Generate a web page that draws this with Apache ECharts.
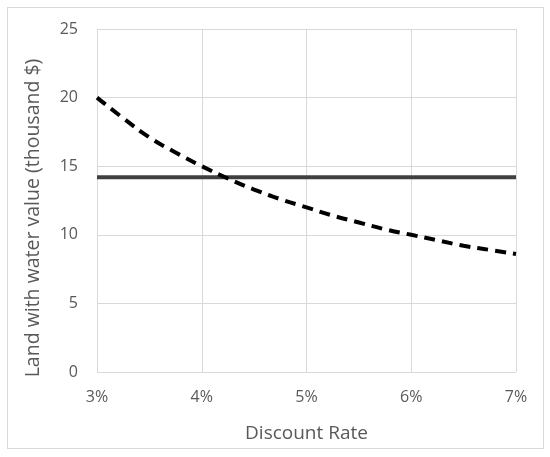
<!DOCTYPE html>
<html>
<head>
<meta charset="utf-8">
<script src="https://cdn.jsdelivr.net/npm/echarts@6/dist/echarts.min.js"></script>
<style>
html,body{margin:0;padding:0;background:#fff;}
#frame{position:absolute;left:7px;top:7px;width:537px;height:442px;border:1px solid #d9d9d9;box-sizing:border-box;}
#c{position:absolute;left:0;top:0;width:550px;height:457px;}
</style>
</head>
<body>
<div id="frame"></div>
<div id="c"></div>
<script>
const discountRates = [3.0, 3.25, 3.5, 3.75, 4.0, 4.25, 4.5, 4.75, 5.0, 5.25, 5.5, 5.75, 6.0, 6.25, 6.5, 6.75, 7.0];
const landWithWaterValue = [20.0, 18.5, 17.1, 16.0, 15.0, 14.1, 13.3, 12.6, 12.0, 11.4, 10.9, 10.4, 10.0, 9.6, 9.2, 8.9, 8.6];
const thresholdValue = [14.2, 14.2];
const thresholdRates = [3.0, 7.0];
const xTicks = [3, 4, 5, 6, 7];
const yTicks = [0, 5, 10, 15, 20, 25];
const xTitle = 'Discount Rate';
const yTitle = 'Land with water value (thousand $)';

const chart = echarts.init(document.getElementById('c'), null, {renderer: 'canvas'});
const ff = 'Open Sans, Noto Sans, sans-serif';
const labelFont = {color: '#595959', fontSize: 16, fontFamily: ff};
chart.setOption({
  backgroundColor: 'transparent',
  animation: false,
  grid: {left: 97, right: 34, top: 29, bottom: 85},
  graphic: [{
    type: 'text', x: 33, y: 218, rotation: Math.PI / 2,
    style: {text: yTitle, fill: '#595959', font: '19.5px ' + ff, align: 'center', verticalAlign: 'middle'}
  }],
  xAxis: {
    type: 'value', min: xTicks[0], max: xTicks[xTicks.length - 1], interval: 1,
    name: xTitle, nameLocation: 'middle', nameGap: 52,
    nameTextStyle: {color: '#595959', fontSize: 19, fontFamily: ff},
    axisLine: {show: false}, axisTick: {show: false},
    axisLabel: Object.assign({formatter: '{value}%', margin: 17}, labelFont),
    splitLine: {show: true, lineStyle: {color: '#d9d9d9', width: 1}}
  },
  yAxis: {
    type: 'value', min: yTicks[0], max: yTicks[yTicks.length - 1], interval: 5,
    axisLine: {show: false}, axisTick: {show: false},
    axisLabel: Object.assign({margin: 19}, labelFont),
    splitLine: {show: true, lineStyle: {color: '#d9d9d9', width: 1}}
  },
  series: [
    {
      type: 'line', data: thresholdRates.map((x, i) => [x, thresholdValue[i]]),
      showSymbol: false, lineStyle: {color: '#404040', width: 4}
    },
    {
      type: 'line', smooth: true, data: discountRates.map((x, i) => [x, landWithWaterValue[i]]),
      showSymbol: false, lineStyle: {color: '#000000', width: 4, type: [11, 7]}
    }
  ]
});
</script>
</body>
</html>
